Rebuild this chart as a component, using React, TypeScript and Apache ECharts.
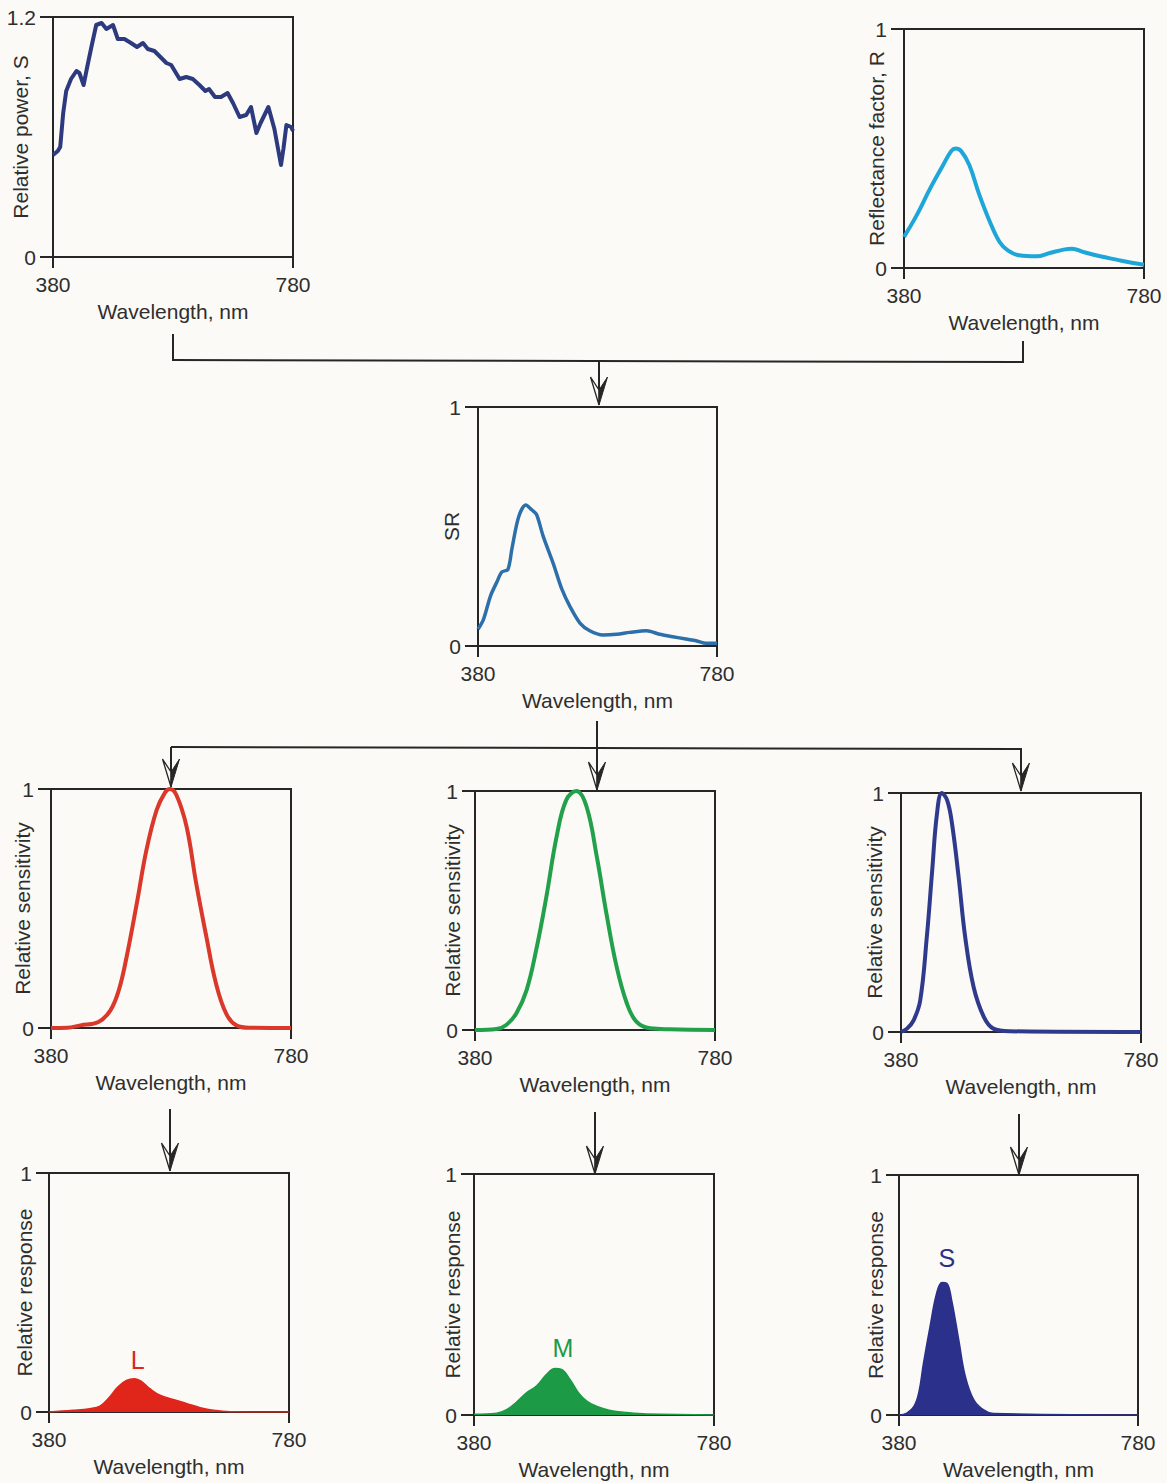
import React, { useEffect, useRef } from "react";
import * as echarts from "echarts";

const W = 1167;
const H = 1483;
const BG = "#fbfaf6";
const AX = "#262626";
const TXT = "#2e2e2e";
const FONT = "'Liberation Sans', Arial, Helvetica, sans-serif";

// ---- data (wavelength in nm) ----
const powerWl = [380, 388, 392, 397, 402, 410, 419, 424, 431, 437, 444, 452, 461, 469, 480, 488, 499, 510, 520, 530, 538, 549, 559, 569, 577, 591, 602, 613, 624, 634, 640, 650, 660, 671, 680, 691, 702, 710, 719, 726, 739, 749, 760, 764, 769, 777, 780];
const powerS = [0.51, 0.53, 0.55, 0.72, 0.83, 0.89, 0.93, 0.92, 0.86, 0.95, 1.05, 1.16, 1.17, 1.14, 1.16, 1.09, 1.09, 1.07, 1.05, 1.07, 1.04, 1.03, 1.0, 0.97, 0.96, 0.89, 0.9, 0.89, 0.86, 0.83, 0.84, 0.8, 0.8, 0.82, 0.77, 0.7, 0.71, 0.75, 0.62, 0.67, 0.75, 0.64, 0.46, 0.54, 0.66, 0.65, 0.63];

const reflWl = [380, 401, 423, 445, 459, 466, 475, 489, 505, 522, 539, 553, 572, 601, 623, 646, 660, 679, 707, 734, 762, 780];
const reflR = [0.13, 0.22, 0.33, 0.43, 0.49, 0.5, 0.49, 0.43, 0.31, 0.2, 0.11, 0.074, 0.053, 0.049, 0.063, 0.077, 0.081, 0.067, 0.049, 0.035, 0.021, 0.014];

const srWl = [380, 389, 401, 412, 420, 430, 437, 448, 460, 470, 478, 489, 506, 520, 534, 551, 567, 589, 612, 634, 662, 684, 706, 728, 745, 762, 780];
const srVal = [0.07, 0.11, 0.21, 0.27, 0.31, 0.32, 0.41, 0.54, 0.59, 0.57, 0.55, 0.46, 0.345, 0.24, 0.165, 0.095, 0.064, 0.046, 0.049, 0.057, 0.064, 0.049, 0.039, 0.029, 0.022, 0.011, 0.011];

const lSensWl = [380, 407, 429, 459, 479, 493, 506, 523, 539, 556, 570, 578, 589, 606, 622, 639, 655, 672, 689, 712, 780];
const lSens = [0, 0.001, 0.011, 0.025, 0.074, 0.158, 0.297, 0.521, 0.744, 0.912, 0.985, 1.0, 0.975, 0.842, 0.605, 0.381, 0.186, 0.06, 0.011, 0.001, 0];

const mSensWl = [380, 416, 432, 449, 466, 482, 499, 516, 532, 549, 566, 583, 599, 616, 633, 649, 672, 705, 780];
const mSens = [0, 0.004, 0.021, 0.07, 0.167, 0.335, 0.558, 0.809, 0.962, 1.0, 0.934, 0.725, 0.488, 0.265, 0.112, 0.035, 0.007, 0.003, 0];

const sSensWl = [380, 390, 401, 412, 423, 432, 440, 448, 457, 465, 476, 487, 501, 518, 534, 562, 780];
const sSens = [0, 0.014, 0.049, 0.132, 0.397, 0.676, 0.914, 1.0, 0.969, 0.872, 0.649, 0.397, 0.188, 0.063, 0.014, 0.003, 0];

const lRespWl = [380, 420, 448, 465, 481, 495, 509, 523, 534, 548, 565, 587, 610, 632, 654, 682, 780];
const lResp = [0, 0.007, 0.014, 0.025, 0.063, 0.105, 0.132, 0.139, 0.128, 0.098, 0.07, 0.052, 0.035, 0.018, 0.007, 0.001, 0];

const mRespWl = [380, 418, 435, 451, 468, 484, 501, 515, 526, 540, 554, 568, 585, 607, 635, 668, 780];
const mResp = [0.003, 0.007, 0.023, 0.054, 0.093, 0.12, 0.169, 0.193, 0.189, 0.148, 0.093, 0.058, 0.035, 0.019, 0.01, 0.004, 0];

const sRespWl = [380, 393, 405, 413, 421, 432, 443, 452, 460, 468, 480, 491, 505, 521, 538, 780];
const sResp = [0, 0.008, 0.036, 0.092, 0.216, 0.369, 0.508, 0.552, 0.549, 0.48, 0.313, 0.161, 0.064, 0.022, 0.006, 0];

const xTicks = [380, 780];
const yTicksPower = [0, 1.2];
const yTicksUnit = [0, 1];
const xName = "Wavelength, nm";

// cone labels: [wavelength, value, text]
const coneLabels: [number, number, string][] = [
  [528, 0.216, "L"],
  [528, 0.28, "M"],
  [460, 0.655, "S"],
];

// ---- layout ----
type Panel = {
  left: number; top: number; width: number; height: number; yGap: number;
  yMax: number; yTicks: number[]; yName: string;
  wl: number[]; vals: number[]; color: string; lw: number; area: boolean; smooth: number | boolean;
  label?: [number, number, string]; labelColor?: string;
};

const panels: Panel[] = [
  { left: 53, top: 17, width: 240, height: 240, yGap: 22, yMax: 1.2, yTicks: yTicksPower, yName: "Relative power, S", wl: powerWl, vals: powerS, color: "#2d3a7e", lw: 4, area: false, smooth: false },
  { left: 904, top: 29, width: 240, height: 239, yGap: 17, yMax: 1, yTicks: yTicksUnit, yName: "Reflectance factor, R", wl: reflWl, vals: reflR, color: "#1ea6d9", lw: 4, area: false, smooth: 0.4 },
  { left: 478, top: 407, width: 239, height: 239, yGap: 16, yMax: 1, yTicks: yTicksUnit, yName: "SR", wl: srWl, vals: srVal, color: "#2d6fab", lw: 3.5, area: false, smooth: 0.3 },
  { left: 51, top: 789, width: 240, height: 239, yGap: 18, yMax: 1, yTicks: yTicksUnit, yName: "Relative sensitivity", wl: lSensWl, vals: lSens, color: "#d9382b", lw: 4, area: false, smooth: 0.4 },
  { left: 475, top: 791, width: 240, height: 239, yGap: 12, yMax: 1, yTicks: yTicksUnit, yName: "Relative sensitivity", wl: mSensWl, vals: mSens, color: "#22a04a", lw: 4, area: false, smooth: 0.4 },
  { left: 901, top: 793, width: 240, height: 239, yGap: 16, yMax: 1, yTicks: yTicksUnit, yName: "Relative sensitivity", wl: sSensWl, vals: sSens, color: "#303a8c", lw: 4, area: false, smooth: 0.4 },
  { left: 49, top: 1173, width: 240, height: 239, yGap: 14, yMax: 1, yTicks: yTicksUnit, yName: "Relative response", wl: lRespWl, vals: lResp, color: "#e0261b", lw: 1.5, area: true, smooth: 0.4, label: coneLabels[0], labelColor: "#d9281e" },
  { left: 474, top: 1174, width: 240, height: 241, yGap: 11, yMax: 1, yTicks: yTicksUnit, yName: "Relative response", wl: mRespWl, vals: mResp, color: "#1c9a45", lw: 1.5, area: true, smooth: 0.4, label: coneLabels[1], labelColor: "#1c9a45" },
  { left: 899, top: 1175, width: 239, height: 240, yGap: 13, yMax: 1, yTicks: yTicksUnit, yName: "Relative response", wl: sRespWl, vals: sResp, color: "#2b318a", lw: 1.5, area: true, smooth: 0.4, label: coneLabels[2], labelColor: "#2b318a" },
];

function arrow(x: number, yStart: number, tipY: number): any[] {
  const len = 28;
  const half = 8.5;
  const notch = tipY - 15;
  return [
    { type: "line", shape: { x1: x, y1: yStart, x2: x, y2: notch }, style: { stroke: AX, lineWidth: 2 } },
    { type: "polygon", shape: { points: [[x, tipY], [x - half, tipY - len], [x, notch]] }, style: { fill: BG, stroke: AX, lineWidth: 1.3 } },
    { type: "polygon", shape: { points: [[x, tipY], [x + half, tipY - len], [x, notch]] }, style: { fill: AX, stroke: AX, lineWidth: 1 } },
  ];
}

function hline(x1: number, y1: number, x2: number, y2: number) {
  return { type: "line", shape: { x1, y1, x2, y2 }, style: { stroke: AX, lineWidth: 2 } };
}

function buildOption() {
  const grid: any[] = [];
  const xAxis: any[] = [];
  const yAxis: any[] = [];
  const series: any[] = [];
  const axLine = { show: true, onZero: false, lineStyle: { color: AX, width: 2 } };
  const txt = { color: TXT, fontSize: 21, fontFamily: FONT };

  panels.forEach((p, i) => {
    grid.push({
      left: p.left, top: p.top, width: p.width, height: p.height,
      show: true, borderColor: AX, borderWidth: 2, backgroundColor: "transparent",
      containLabel: false, outerBoundsMode: "none",
    });
    xAxis.push({
      type: "value", gridIndex: i, min: 380, max: 780,
      axisLine: axLine,
      axisTick: { show: true, length: 11, customValues: xTicks, lineStyle: { color: AX, width: 2 } },
      axisLabel: { ...txt, customValues: xTicks, margin: 17 },
      splitLine: { show: false },
      name: xName, nameLocation: "middle", nameGap: 44, nameMoveOverlap: false, nameTextStyle: { ...txt },
    });
    yAxis.push({
      type: "value", gridIndex: i, min: 0, max: p.yMax,
      axisLine: axLine,
      axisTick: { show: true, length: 13, customValues: p.yTicks, lineStyle: { color: AX, width: 2 } },
      axisLabel: { ...txt, customValues: p.yTicks, margin: 17 },
      splitLine: { show: false },
      name: p.yName, nameLocation: "middle", nameGap: p.yGap, nameMoveOverlap: false, nameTextStyle: { ...txt },
    });
    const s: any = {
      type: "line", xAxisIndex: i, yAxisIndex: i,
      data: p.wl.map((w, k) => [w, p.vals[k]]),
      showSymbol: false, symbol: "none", smooth: p.smooth,
      lineStyle: { color: p.color, width: p.lw, join: "round" },
      itemStyle: { color: p.color },
      z: 3,
    };
    if (p.area) s.areaStyle = { color: p.color, opacity: 1, origin: "start" };
    if (p.label) {
      s.markPoint = {
        symbol: "circle", symbolSize: 1, itemStyle: { color: "transparent" },
        label: { show: true, position: "inside", formatter: p.label[2], fontSize: 25, fontFamily: FONT, color: p.labelColor },
        data: [{ coord: [p.label[0], p.label[1]] }],
      };
    }
    series.push(s);
  });

  const graphic: any[] = [
    // top connector S & R -> SR
    hline(173, 334, 173, 360),
    hline(172, 360, 1024, 362),
    hline(1023, 341, 1023, 362),
    ...arrow(599, 361, 405),
    // SR -> three cones
    hline(597, 721, 597, 748),
    hline(171, 747, 1022, 749),
    ...arrow(171, 747, 787),
    ...arrow(597, 748, 790),
    ...arrow(1021, 749, 791),
    // sensitivities -> responses
    ...arrow(170, 1109, 1171),
    ...arrow(595, 1112, 1174),
    ...arrow(1019, 1114, 1175),
  ].map((g) => ({ ...g, z: 100 }));

  return {
    animation: false,
    backgroundColor: BG,
    textStyle: { fontFamily: FONT },
    grid, xAxis, yAxis, series, graphic,
  };
}

export default function App() {
  const ref = useRef<HTMLDivElement>(null);
  useEffect(() => {
    if (!ref.current) return;
    const chart = echarts.init(ref.current, null, { renderer: "svg" });
    chart.setOption(buildOption() as any);
    return () => chart.dispose();
  }, []);
  return (
    <div
      ref={ref}
      style={{ position: "absolute", left: 0, top: 0, width: W, height: H, background: BG }}
    />
  );
}
